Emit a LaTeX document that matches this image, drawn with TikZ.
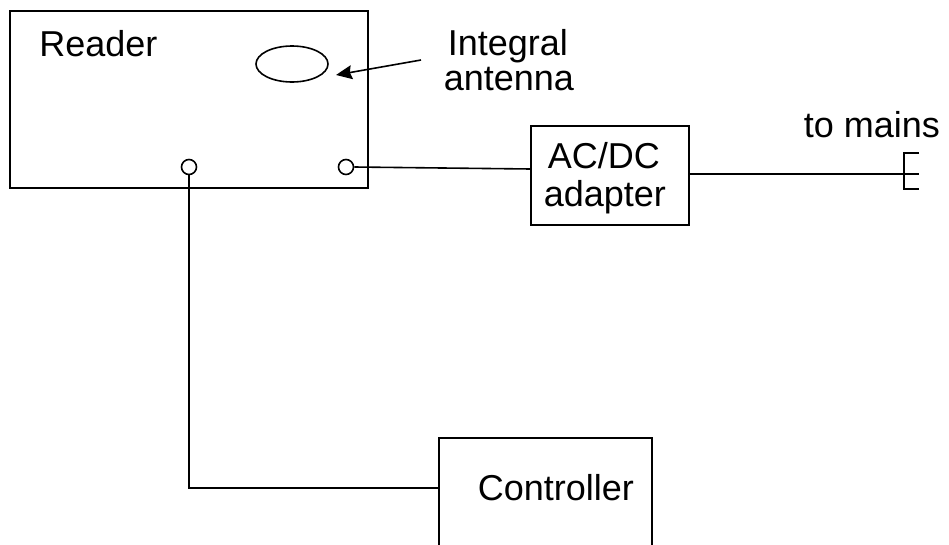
\documentclass[tikz,border=0pt]{standalone}
\usepackage{fontspec}
\setmainfont{Liberation Sans}
\usetikzlibrary{arrows.meta,shapes.geometric}
\tikzset{
  x=1pt,y=-1pt,
  every path/.style={line width=1.6pt,draw=black},
  boxn/.style={draw,rectangle,inner sep=0pt,minimum width=#1},
  port/.style={draw,circle,inner sep=0pt,minimum size=15pt,fill=white},
  lbl/.style={draw=none,font=\fontsize{36}{36}\selectfont,anchor=base west,inner sep=0pt,text=black},
  wire/.style={line width=1.6pt},
}
\begin{document}
\begin{tikzpicture}
\useasboundingbox[draw=none] (0,0) rectangle (949,544);
% boxes
\node[boxn=358pt,minimum height=177pt] (reader) at (189,99.5) {};
\node[boxn=158pt,minimum height=99pt] (adapter) at (610,175.5) {};
\node[boxn=213pt,minimum height=120pt] (controller) at (545.5,498) {};
\node[draw,ellipse,inner sep=0pt,minimum width=72pt,minimum height=36pt] (antenna) at (292,64) {};
\node[port] (p1) at (189,167) {};
\node[port] (p2) at (346,167) {};
% labels
\node[lbl] (lreader) at (38.5,56) {Reader};
\node[lbl] (lintegral) at (447,55) {Integral};
\node[lbl] (lantenna) at (443,90) {antenna};
\node[lbl] (lac) at (547,168) {AC/DC};
\node[lbl] (ladapter) at (543,206) {adapter};
\node[lbl] (lmains) at (803,137) {to mains};
\node[lbl] (lcontroller) at (477,500) {Controller};
% free ends
\coordinate (arrowtail) at (421,60);
\coordinate (arrowhead) at (336,75);
\coordinate (p2in) at (531,169);
\coordinate (elbow) at (189,488);
\coordinate (ctrlin) at (439,488);
\coordinate (plugmid) at (904,174);
\coordinate (plugtop) at (904,153);
\coordinate (plugbot) at (904,189);
\coordinate (plugtopend) at (919,153);
\coordinate (plugmidend) at (919,174);
\coordinate (plugbotend) at (919,189);
% connectors
\draw[wire] (p2.east) -- (p2in);
\draw[wire] (p1.south) -- (elbow) -- (ctrlin);
\draw[wire] (adapter.east |- plugmid) -- (plugmid) -- (plugmidend);
\draw[wire] (plugtopend) -- (plugtop) -- (plugbot) -- (plugbotend);
\draw[wire,-{Stealth[length=16pt,width=14pt,inset=2pt]}] (arrowtail) -- (arrowhead);
\end{tikzpicture}
\end{document}
